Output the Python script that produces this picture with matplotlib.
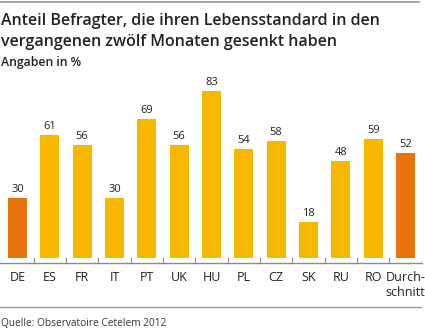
import matplotlib
matplotlib.use("Agg")
import matplotlib.pyplot as plt
from matplotlib.lines import Line2D

categories = ["DE", "ES", "FR", "IT", "PT", "UK", "HU", "PL", "CZ", "SK", "RU", "RO", "Durch-\nschnitt"]
values = [30, 61, 56, 30, 69, 56, 83, 54, 58, 18, 48, 59, 52]
highlight = ["DE", "Durch-\nschnitt"]

YELLOW = "#F8B800"
ORANGE = "#E8720C"
GRAY = "#8C8C8C"
FONT = ["Open Sans", "DejaVu Sans"]

W, H = 425, 329
fig = plt.figure(figsize=(W / 100, H / 100), dpi=100)

def px(x, y):
    return x / W, 1 - y / H

# axes: left 0px, right 422px; top 70px, bottom 263px
pxu = 2.015
y_base = 258
ax_top, ax_bot = 70, 263
ax = fig.add_axes([0, 1 - ax_bot / H, 422 / W, (ax_bot - ax_top) / H])
spacing = (405.5 - 17.5) / 12
ax.set_xlim(-17.5 / spacing, (422 - 17.5) / spacing)
ax.set_ylim(-(ax_bot - y_base) / pxu, (y_base - ax_top) / pxu)

colors = [ORANGE if c in highlight else YELLOW for c in categories]
xs = list(range(len(categories)))
ax.bar(xs, values, width=19 / spacing, color=colors, linewidth=0)
for x, v in zip(xs, values):
    ax.text(x, v + 1.5, str(v), ha="center", va="bottom", fontsize=8,
            family=FONT, color="#222222")

ymin = ax.get_ylim()[0]
for i in range(len(categories) - 1):
    ax.plot([i + 0.5, i + 0.5], [ymin, 0], color=GRAY, lw=0.8, clip_on=False)

for s in ["top", "right", "left"]:
    ax.spines[s].set_visible(False)
ax.spines["bottom"].set_color(GRAY)
ax.spines["bottom"].set_linewidth(1.0)
ax.set_yticks([])
ax.set_xticks(xs)
ax.set_xticklabels([])
ax.tick_params(axis="x", length=0)
for x, c in zip(xs, categories):
    ax.annotate(c, xy=(x, ymin), xycoords="data", xytext=(0, -6),
                textcoords="offset points", ha="center", va="top",
                fontsize=9, family=FONT, color="#222222",
                linespacing=1.15, annotation_clip=False)

# lines
fig.add_artist(Line2D([0, 419 / W], [1 - 1.5 / H, 1 - 1.5 / H], color="#999999", lw=1.2))
fig.add_artist(Line2D([0, 421 / W], [1 - 307 / H, 1 - 307 / H], color="#999999", lw=1.0))

# title
fig.text(*px(1, 25), "Anteil Befragter, die ihren Lebensstandard in den",
         fontsize=11.5, fontweight="semibold", family=FONT, color="#222222", va="baseline")
fig.text(*px(1, 46), "vergangenen zwölf Monaten gesenkt haben",
         fontsize=11.5, fontweight="semibold", family=FONT, color="#222222", va="baseline")
fig.text(*px(1, 66), "Angaben in %", fontsize=8.8, fontweight="semibold",
         family=FONT, color="#222222", va="baseline")
fig.text(*px(1, 326), "Quelle: Observatoire Cetelem 2012", fontsize=7.3,
         family=FONT, color="#333333", va="baseline")

fig.savefig("out.png", dpi=100, facecolor="white")
